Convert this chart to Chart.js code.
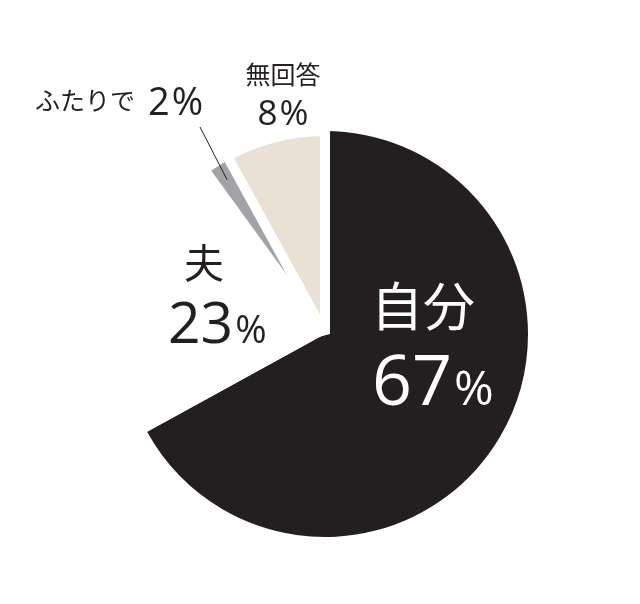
<!DOCTYPE html>
<html lang="ja">
<head>
<meta charset="utf-8">
<script src="https://cdn.jsdelivr.net/npm/chart.js@4.4.1/dist/chart.umd.min.js"></script>
<style>
  html, body { margin: 0; padding: 0; background: #fff; }
  #wrap { width: 640px; height: 604px; }
</style>
</head>
<body>
<div id="wrap"><canvas id="pie"></canvas></div>
<script>
// DATA
const categories = ["自分", "夫", "ふたりで", "無回答"];
const shares = [67, 23, 2, 8];
const shareLabels = ["67", "23", "2", "8"];

const sliceColors = ["#231f20", "#ffffff", "#a2a3a6", "#eae0d6"];
const sliceBorders = [0, 0, 8, 10];

const JP = '"Noto Sans CJK JP", "Noto Sans", sans-serif';
const NUM = '"Open Sans", "Noto Sans", sans-serif';

// label layout, offsets from the pie centre
const labelSpots = [
  { name: { dx: 98, dy: -28, size: 52, align: "center" },
    num: { dx: 47, dy: 71, size: 70, pct: 48 }, color: "#ffffff" },
  { name: { dx: -121, dy: -71, size: 40, align: "center" },
    num: { dx: -157, dy: 9, size: 57, pct: 38 }, color: "#231f20" },
  { name: { dx: -290, dy: -234, size: 25, align: "left" },
    num: { dx: -177, dy: -219, size: 38, pct: 38 }, color: "#231f20" },
  { name: { dx: -42, dy: -260, size: 25, align: "center" },
    num: { dx: -42, dy: -209, size: 35, pct: 35, center: true }, color: "#231f20" }
];

function drawPct(ctx, txt, x, y, size, pctSize, center) {
  ctx.font = "400 " + size + "px " + NUM;
  const w1 = ctx.measureText(txt).width;
  ctx.font = "400 " + pctSize + "px " + NUM;
  const w2 = ctx.measureText("%").width;
  let left = center ? x - (w1 + w2 + 2) / 2 : x;
  ctx.textAlign = "left";
  ctx.textBaseline = "alphabetic";
  ctx.font = "400 " + size + "px " + NUM;
  ctx.fillText(txt, left, y);
  ctx.font = "400 " + pctSize + "px " + NUM;
  ctx.fillText("%", left + w1 + 2, y);
}

const labelPlugin = {
  id: "labelPlugin",
  afterDatasetsDraw(chart) {
    const ctx = chart.ctx;
    const arcs = chart.getDatasetMeta(0).data;
    const cx = arcs[0].x, cy = arcs[0].y, r = arcs[0].outerRadius;
    ctx.save();
    labelSpots.forEach((s, i) => {
      ctx.fillStyle = s.color;
      ctx.font = "400 " + s.name.size + "px " + JP;
      ctx.textAlign = s.name.align;
      ctx.textBaseline = "middle";
      ctx.fillText(categories[i], cx + s.name.dx, cy + s.name.dy);
      drawPct(ctx, shareLabels[i], cx + s.num.dx, cy + s.num.dy, s.num.size, s.num.pct, s.num.center);
    });
    // leader line to the small gray slice
    const g = arcs[2];
    const mid = (g.startAngle + g.endAngle) / 2;
    ctx.strokeStyle = "#231f20";
    ctx.lineWidth = 1;
    ctx.beginPath();
    ctx.moveTo(cx - 125, cy - 207);
    ctx.lineTo(cx + Math.cos(mid) * r * 0.9, cy + Math.sin(mid) * r * 0.9);
    ctx.stroke();
    ctx.restore();
  }
};

new Chart(document.getElementById("pie"), {
  type: "pie",
  data: {
    labels: categories,
    datasets: [{
      data: shares,
      backgroundColor: sliceColors,
      borderColor: "#ffffff",
      borderWidth: sliceBorders
    }]
  },
  options: {
    responsive: true,
    maintainAspectRatio: false,
    animation: false,
    radius: 203,
    layout: { padding: { left: 10, top: 64, right: 0, bottom: 0 } },
    plugins: {
      legend: { display: false },
      tooltip: { enabled: false }
    }
  },
  plugins: [labelPlugin]
});
</script>
</body>
</html>
